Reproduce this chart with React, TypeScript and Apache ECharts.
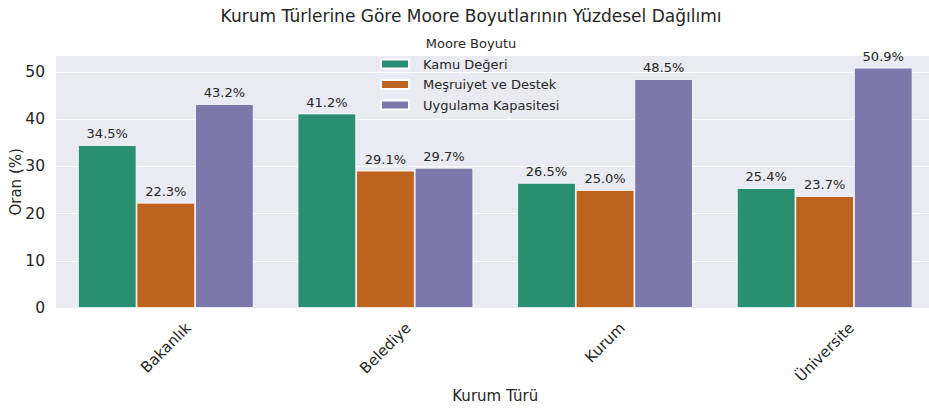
import React, { useEffect, useRef } from "react";
import * as echarts from "echarts";

const categories = ["Bakanlık", "Belediye", "Kurum", "Üniversite"];
const seriesNames = ["Kamu Değeri", "Meşruiyet ve Destek", "Uygulama Kapasitesi"];
const kamuDegeri = [34.5, 41.2, 26.5, 25.4];
const mesruiyet = [22.3, 29.1, 25.0, 23.7];
const uygulama = [43.2, 29.7, 48.5, 50.9];
const colors = ["#2a8f70", "#be631f", "#7c78ab"];

const FONT = '"DejaVu Sans", Verdana, sans-serif';
const TXT = "#262626";

export default function App() {
  const ref = useRef<HTMLDivElement>(null);
  useEffect(() => {
    document.body.style.margin = "0";
    const chart = echarts.init(ref.current!, null, { renderer: "svg" });
    const values = [kamuDegeri, mesruiyet, uygulama];
    const yMax = Math.max(...uygulama) * 1.05;
    chart.setOption({
      animation: false,
      backgroundColor: "#ffffff",
      textStyle: { fontFamily: FONT },
      grid: {
        left: 56,
        top: 55.7,
        width: 878.5,
        height: 252.3,
        show: true,
        backgroundColor: "#eaeaf2",
        borderWidth: 0,
        containLabel: false,
        outerBoundsMode: "none",
      },
      legend: {
        orient: "vertical",
        left: 380,
        top: 57,
        padding: 0,
        itemWidth: 28,
        itemHeight: 9,
        itemGap: 6.5,
        icon: "rect",
        data: seriesNames,
        textStyle: {
          fontFamily: FONT,
          fontSize: 13,
          color: TXT,
          lineHeight: 14,
          padding: [0, 0, 0, 9],
        },
      },
      xAxis: {
        type: "category",
        data: categories,
        axisLine: { show: false },
        axisTick: { show: false },
        axisLabel: { show: false },
        name: "Kurum Türü",
        nameLocation: "middle",
        nameGap: 80,
        nameMoveOverlap: false,
        nameTextStyle: { fontFamily: FONT, fontSize: 15, color: TXT },
      },
      yAxis: {
        type: "value",
        min: 0,
        max: yMax,
        interval: 10,
        axisLine: { show: false },
        axisTick: { show: false },
        splitLine: { lineStyle: { color: "#ffffff", width: 1.2 } },
        axisLabel: {
          fontFamily: FONT,
          fontSize: 15.5,
          color: TXT,
          margin: 11,
          formatter: (v: number) => (Math.abs(v % 10) < 1e-9 ? String(v) : ""),
        },
        name: "Oran (%)",
        nameLocation: "middle",
        nameGap: 33,
        nameRotate: 90,
        nameMoveOverlap: false,
        nameTextStyle: { fontFamily: FONT, fontSize: 15, color: TXT },
      },
      series: seriesNames.map((name, i) => ({
        name,
        type: "bar",
        data: values[i],
        barGap: "0%",
        barCategoryGap: "20%",
        itemStyle: { color: colors[i], borderColor: "#ffffff", borderWidth: 0.8 },
        label: {
          show: true,
          position: "top",
          distance: 5,
          formatter: (p: any) => `${Number(p.value).toFixed(1)}%`,
          fontFamily: FONT,
          fontSize: 13,
          color: TXT,
        },
      })),
    });

    const ctx = document.createElement("canvas").getContext("2d")!;
    ctx.font = `15px ${FONT}`;
    const y0 = chart.convertToPixel({ yAxisIndex: 0 }, 0) as number;
    const xLabels = categories.map((c) => {
      const x = chart.convertToPixel({ xAxisIndex: 0 }, c) as number;
      const w = ctx.measureText(c).width;
      const H = (w + 15) * Math.SQRT1_2;
      return {
        type: "text",
        x,
        y: y0 + 12 + H / 2,
        rotation: Math.PI / 4,
        style: {
          text: c,
          font: `15px ${FONT}`,
          fill: TXT,
          align: "center",
          verticalAlign: "middle",
        },
      };
    });
    chart.setOption({
      graphic: [
        {
          type: "text",
          x: 471,
          y: 16,
          style: {
            text: "Kurum Türlerine Göre Moore Boyutlarının Yüzdesel Dağılımı",
            font: `17px ${FONT}`,
            fill: TXT,
            align: "center",
            verticalAlign: "middle",
          },
        },
        {
          type: "text",
          x: 471,
          y: 43,
          style: {
            text: "Moore Boyutu",
            font: `13px ${FONT}`,
            fill: TXT,
            align: "center",
            verticalAlign: "middle",
          },
        },
        ...xLabels,
      ],
    });
    return () => chart.dispose();
  }, []);
  return (
    <div
      ref={ref}
      style={{ position: "absolute", left: 0, top: 0, width: 929, height: 408 }}
    />
  );
}
